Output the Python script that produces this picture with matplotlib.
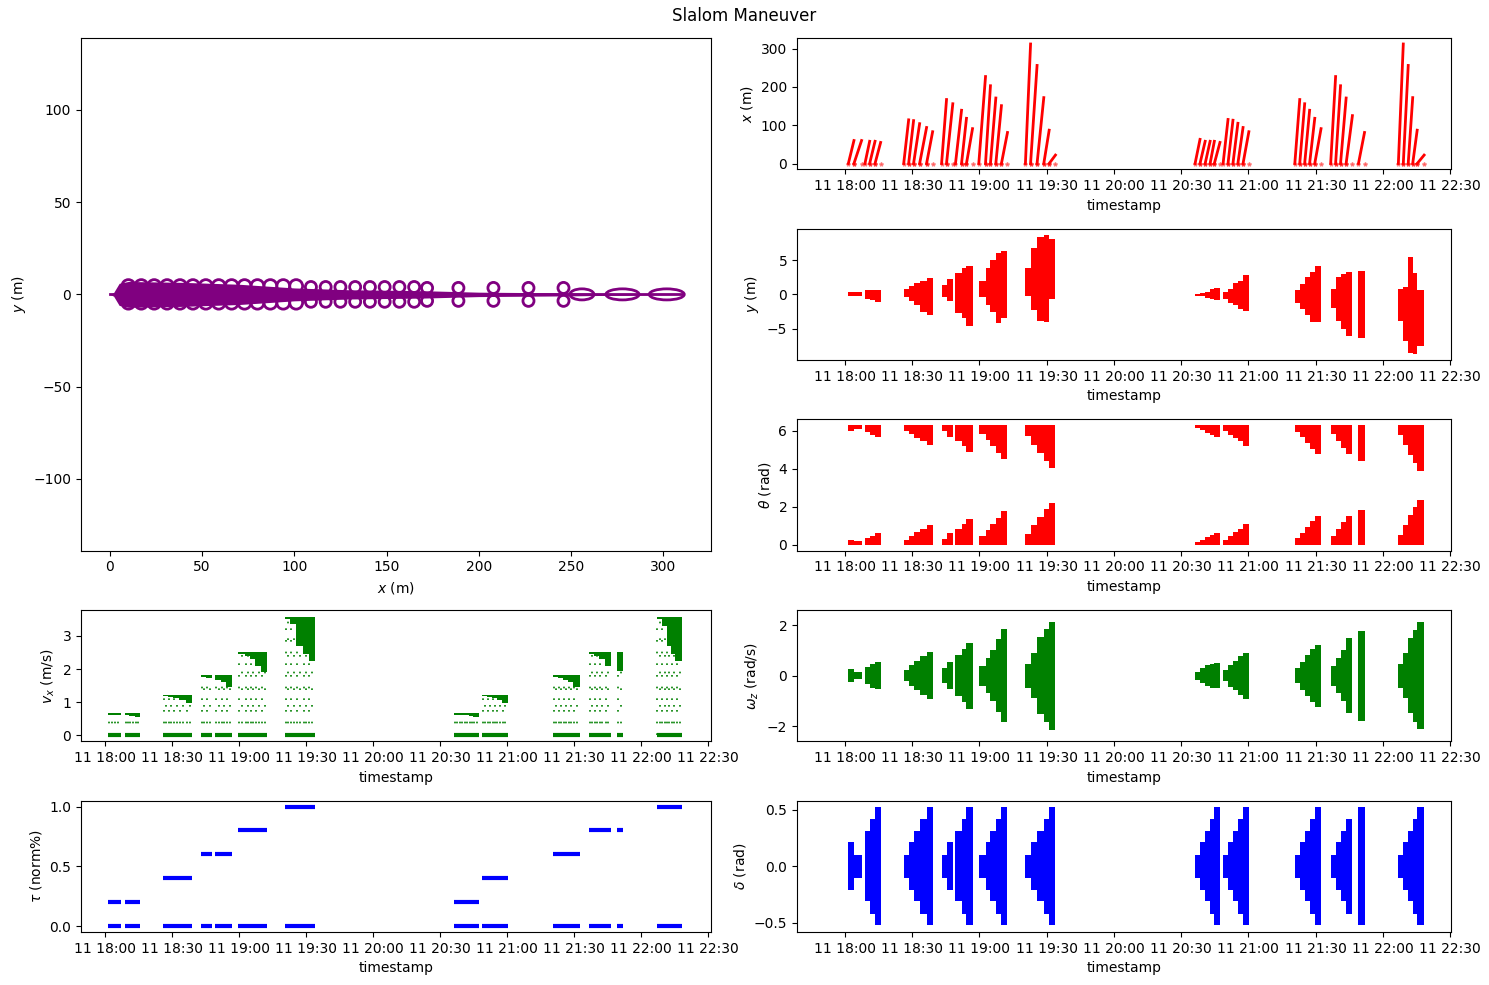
import matplotlib
matplotlib.use('Agg')
import matplotlib.pyplot as plt
import matplotlib.dates as mdates
from matplotlib.patches import Ellipse
from datetime import datetime, timedelta

T0 = datetime(2021, 5, 11, 18, 0)

# run windows in minutes after 18:00, 10 sessions x 5 runs
run_start = [
    [1.5, 4.0, 8.9, 11.0, 13.4],
    [26.2, 28.4, 30.6, 33.3, 36.4],
    [43.1, 45.3, 49.3, 52.0, 54.2],
    [59.7, 62.7, 64.9, 67.3, 69.8],
    [80.5, 82.8, 85.7, 88.7, 91.1],
    [156.2, 158.4, 160.7, 162.9, 164.8],
    [168.7, 170.9, 173.1, 175.3, 177.6],
    [200.7, 202.9, 205.1, 207.3, 209.6],
    [216.7, 218.9, 221.1, 223.6, 229.1],
    [246.9, 249.1, 251.3, 253.3, 255.3],
]
run_end = [
    [4.0, 7.4, 11.0, 13.4, 15.9],
    [28.4, 30.6, 33.3, 36.4, 39.1],
    [45.3, 48.1, 52.0, 54.2, 56.9],
    [62.7, 64.9, 67.3, 69.8, 72.5],
    [82.8, 85.7, 88.7, 91.1, 93.9],
    [158.4, 160.7, 162.9, 164.8, 167.3],
    [170.9, 173.1, 175.3, 177.6, 180.2],
    [202.9, 205.1, 207.3, 209.6, 212.4],
    [218.9, 221.1, 223.6, 226.4, 231.8],
    [249.1, 251.3, 253.3, 255.3, 258.4],
]
x_max = [
    [60, 60, 58, 58, 55],
    [114, 112, 104, 94, 83],
    [167, 156, 139, 118, 91],
    [227, 203, 171, 151, 81],
    [312, 256, 172, 87, 22],
    [63, 58, 58, 58, 55],
    [115, 113, 105, 94, 83],
    [167, 156, 139, 118, 91],
    [227, 203, 171, 125, 81],
    [312, 256, 172, 87, 22],
]
y_hi = [
    [0.3, 0.3, 0.6, 0.7, 0.7],
    [0.8, 1.2, 1.7, 2.0, 2.4],
    [1.3, 2.3, 3.1, 3.9, 4.1],
    [2.0, 3.8, 5.0, 6.0, 6.3],
    [3.8, 6.7, 8.3, 8.7, 8.1],
    [0.1, 0.2, 0.4, 0.8, 1.0],
    [0.3, 0.8, 1.6, 2.0, 2.8],
    [0.6, 1.5, 2.6, 3.3, 4.1],
    [0.8, 2.6, 2.9, 3.2, 3.4],
    [0.8, 1.1, 5.4, 3.1, 0.7],
]
y_lo = [
    [-0.3, -0.3, -0.6, -0.8, -1.1],
    [-0.4, -1.0, -1.5, -2.6, -3.0],
    [-0.4, -1.0, -2.7, -3.5, -4.6],
    [-0.4, -1.5, -2.6, -4.1, -3.5],
    [-0.3, -2.3, -3.9, -4.0, -0.6],
    [-0.2, -0.3, -0.5, -0.7, -0.8],
    [-0.7, -1.2, -1.6, -2.2, -2.4],
    [-1.2, -2.2, -3.0, -4.0, -4.0],
    [-2.0, -3.9, -5.0, -6.0, -6.3],
    [-3.9, -6.8, -8.5, -8.7, -7.5],
]
theta_amp = [
    [0.28, 0.18, 0.37, 0.49, 0.60],
    [0.28, 0.46, 0.67, 0.83, 1.02],
    [0.32, 0.60, 0.85, 1.11, 1.38],
    [0.44, 0.76, 1.11, 1.43, 1.76],
    [0.55, 1.02, 1.46, 1.87, 2.22],
    [0.16, 0.26, 0.40, 0.53, 0.60],
    [0.28, 0.49, 0.69, 0.85, 1.08],
    [0.34, 0.63, 0.92, 1.23, 1.50],
    [0.44, 0.81, 1.18, 1.50, 1.85],
    [0.53, 1.02, 1.55, 1.98, 2.38],
]
omega_amp = [
    [0.25, 0.14, 0.35, 0.48, 0.52],
    [0.22, 0.42, 0.57, 0.77, 0.93],
    [0.29, 0.52, 0.80, 1.04, 1.30],
    [0.39, 0.68, 1.01, 1.45, 1.84],
    [0.48, 0.90, 1.52, 1.84, 2.14],
    [0.16, 0.29, 0.42, 0.48, 0.49],
    [0.22, 0.43, 0.58, 0.77, 0.91],
    [0.29, 0.55, 0.80, 1.04, 1.23],
    [0.39, 0.69, 1.00, 1.47, 1.78],
    [0.48, 0.88, 1.49, 1.82, 2.12],
]
delta_amp = [
    [0.21, 0.10, 0.31, 0.42, 0.52],
    [0.10, 0.21, 0.31, 0.42, 0.52],
    [0.10, 0.21, 0.31, 0.42, 0.52],
    [0.10, 0.21, 0.31, 0.42, 0.52],
    [0.10, 0.21, 0.31, 0.42, 0.52],
    [0.10, 0.21, 0.31, 0.42, 0.52],
    [0.10, 0.21, 0.31, 0.42, 0.52],
    [0.10, 0.21, 0.31, 0.42, 0.52],
    [0.10, 0.21, 0.31, 0.42, 0.52],
    [0.10, 0.21, 0.31, 0.42, 0.52],
]
vx_lo = [
    [0.60, 0.60, 0.60, 0.58, 0.55],
    [1.18, 1.15, 1.12, 1.08, 0.99],
    [1.75, 1.72, 1.68, 1.60, 1.47],
    [2.45, 2.40, 2.30, 2.10, 1.92],
    [3.50, 3.35, 2.70, 2.45, 2.25],
    [0.60, 0.60, 0.60, 0.58, 0.55],
    [1.18, 1.15, 1.12, 1.08, 0.99],
    [1.75, 1.72, 1.68, 1.60, 1.47],
    [2.45, 2.40, 2.30, 2.10, 1.93],
    [3.50, 3.30, 2.70, 2.45, 2.25],
]
vx_level = [0.66, 1.23, 1.82, 2.52, 3.58, 0.66, 1.23, 1.82, 2.52, 3.58]
tau_level = [0.2, 0.4, 0.6, 0.8, 1.0, 0.2, 0.4, 0.6, 0.8, 1.0]

# trajectory: envelope of the dense part and the visible loops
env_x = [0, 2, 5, 10, 40, 70, 100, 130, 170, 200, 250, 311]
env_y = [0, 1.0, 6.0, 7.0, 6.5, 5.5, 3.5, 2.5, 2.0, 1.2, 0.8, 0]
loop_x = [10, 17, 24, 31, 38, 45, 52, 59, 66, 73, 80, 87, 94, 101,
          109, 117, 125, 133, 141, 149, 157, 165,
          172, 189, 208, 227, 246]
loop_y = [4.5] * 14 + [4.0] * 8 + [3.5] * 5
loop_d = [7] * 14 + [6] * 8 + [6] * 5
eye_x = [256, 278, 302]
eye_w = [13, 18, 19]
eye_h = [6, 6, 6]

PURPLE = 'purple'


def tnum(m):
    return mdates.date2num(T0 + timedelta(minutes=float(m)))


fig = plt.figure(figsize=(14.89, 9.85), dpi=100)
gs = fig.add_gridspec(5, 2, left=0.0544, right=0.9745, top=0.9614, bottom=0.0538,
                      width_ratios=[630, 654], wspace=0.134, hspace=0.45)
ax_tr = fig.add_subplot(gs[0:3, 0])
ax_vx = fig.add_subplot(gs[3, 0])
ax_tau = fig.add_subplot(gs[4, 0])
ax_x = fig.add_subplot(gs[0, 1])
ax_y = fig.add_subplot(gs[1, 1])
ax_th = fig.add_subplot(gs[2, 1])
ax_om = fig.add_subplot(gs[3, 1])
ax_d = fig.add_subplot(gs[4, 1])

fig.suptitle('Slalom Maneuver', y=0.993)

# trajectory
ax_tr.fill_between(env_x, [-v for v in env_y], env_y, color=PURPLE, lw=0)
ax_tr.plot([env_x[0], env_x[-1]], [0, 0], color=PURPLE, lw=2)
for cx, cy, d in zip(loop_x, loop_y, loop_d):
    for sgn in (1, -1):
        ax_tr.add_patch(Ellipse((cx, sgn * cy), d, d, fill=False, ec=PURPLE, lw=2))
for cx, w, h in zip(eye_x, eye_w, eye_h):
    ax_tr.add_patch(Ellipse((cx, 0), w, h, fill=False, ec=PURPLE, lw=2))
ax_tr.set_xlim(-15.7, 326)
ax_tr.set_ylim(-139, 139)
ax_tr.set_xlabel('$x$ (m)')
ax_tr.set_ylabel('$y$ (m)')

TWO_PI = 6.2832
for s in range(len(run_start)):
    for r in range(5):
        t0 = tnum(run_start[s][r])
        t1 = tnum(run_end[s][r])
        w = t1 - t0
        ax_x.plot([t0, t1], [0, x_max[s][r]], color='red', lw=2)
        ax_x.plot([t0, t1], [0, 0], ls='none', marker='*', ms=3, color='red', alpha=0.4)
        ax_y.add_patch(plt.Rectangle((t0, y_lo[s][r]), w, y_hi[s][r] - y_lo[s][r],
                                     color='red', lw=0))
        a = theta_amp[s][r]
        ax_th.add_patch(plt.Rectangle((t0, 0), w, a, color='red', lw=0))
        ax_th.add_patch(plt.Rectangle((t0, TWO_PI - a), w, a, color='red', lw=0))
        a = omega_amp[s][r]
        ax_om.add_patch(plt.Rectangle((t0, -a), w, 2 * a, color='green', lw=0))
        a = delta_amp[s][r]
        ax_d.add_patch(plt.Rectangle((t0, -a), w, 2 * a, color='blue', lw=0))
        # vx: cruising band, accelerating samples and standing still
        ax_vx.add_patch(plt.Rectangle((t0, vx_lo[s][r]), w, vx_level[s] - vx_lo[s][r],
                                      color='green', lw=0))
        ax_vx.vlines(t0 + w * 0.15, 0, vx_lo[s][r], color='green',
                     lw=1.2, linestyles=(0, (1, 6)))
        ax_vx.vlines(t0 + w * 0.6, 0, vx_lo[s][r], color='green',
                     lw=1.2, linestyles=(3, (1, 9)))
        ax_vx.hlines(0, t0, t1, color='green', lw=3, linestyles=(0, (3, 1)))
        ax_tau.hlines(tau_level[s], t0, t1, color='blue', lw=3)
        ax_tau.hlines(0, t0, t1, color='blue', lw=3, linestyles=(0, (3, 1)))

for ax in [ax_x, ax_y, ax_th, ax_om, ax_d]:
    ax.set_xlim(tnum(-21.4), tnum(270.4))
for ax in [ax_vx, ax_tau]:
    ax.set_xlim(tnum(-10.7), tnum(271.2))
for ax in [ax_x, ax_y, ax_th, ax_om, ax_d, ax_vx, ax_tau]:
    ax.xaxis.set_major_locator(mdates.MinuteLocator(byminute=[0, 30]))
    ax.xaxis.set_major_formatter(mdates.DateFormatter('%d %H:%M'))
    ax.set_xlabel('timestamp')

ax_x.set_ylim(-15.6, 327.6)
ax_x.set_ylabel('$x$ (m)')
ax_y.set_ylim(-9.57, 9.57)
ax_y.set_ylabel('$y$ (m)')
ax_th.set_ylim(-0.31, 6.6)
ax_th.set_ylabel(r'$\theta$ (rad)')
ax_om.set_ylim(-2.6, 2.6)
ax_om.set_ylabel(r'$\omega_z$ (rad/s)')
ax_d.set_ylim(-0.58, 0.58)
ax_d.set_ylabel(r'$\delta$ (rad)')
ax_vx.set_ylim(-0.18, 3.78)
ax_vx.set_ylabel('$v_x$ (m/s)')
ax_tau.set_ylim(-0.05, 1.05)
ax_tau.set_ylabel(r'$\tau$ (norm%)')

fig.savefig('out.png', dpi=100)
